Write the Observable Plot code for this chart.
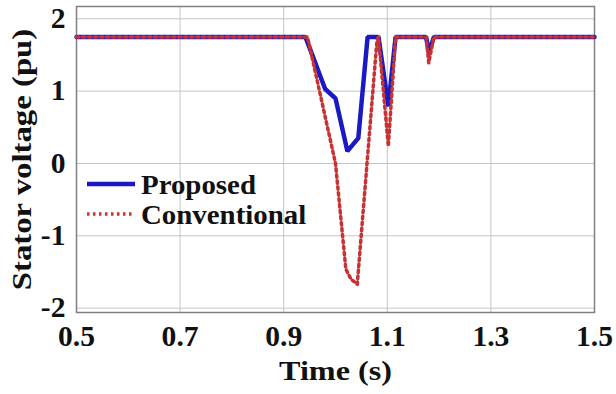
<!DOCTYPE html>
<html><head><meta charset="utf-8">
<script src="https://cdn.jsdelivr.net/npm/d3@7"></script>
<script src="https://cdn.jsdelivr.net/npm/@observablehq/plot@0.6"></script>
<style>body{margin:0;background:#fff}</style>
</head><body><div id="chart"></div>
<script>
const proposedT = [0.5, 0.942, 0.98, 1.0, 1.023, 1.044, 1.062, 1.083, 1.102, 1.116, 1.175, 1.18, 1.19, 1.5];
const proposedV = [1.75, 1.75, 1.03, 0.9, 0.17, 0.35, 1.75, 1.75, 0.79, 1.75, 1.75, 1.53, 1.75, 1.75];
const convT = [0.5, 0.946, 1.0, 1.02, 1.03, 1.042, 1.08, 1.083, 1.102, 1.116, 1.175, 1.18, 1.19, 1.5];
const convV = [1.75, 1.75, 0.0, -1.46, -1.6, -1.67, 1.7, 1.75, 0.24, 1.75, 1.75, 1.39, 1.75, 1.75];
const xTicks = [0.5, 0.7, 0.9, 1.1, 1.3, 1.5];
const yTicks = [-2, -1, 0, 1, 2];
const seriesNames = ["Proposed", "Conventional"];
const xTitle = "Time (s)";
const yTitle = "Stator voltage (pu)";

const prop = proposedT.map((t, i) => ({t, v: proposedV[i]}));
const conv = convT.map((t, i) => ({t, v: convV[i]}));
const font = "'Liberation Serif', 'Times New Roman', serif";

const chart = Plot.plot({
  width: 616, height: 394,
  marginLeft: 76, marginRight: 22, marginTop: 6, marginBottom: 82,
  style: {fontFamily: font, fontWeight: "bold", fontSize: "29px", color: "#111", background: "#fff"},
  x: {domain: [0.5, 1.5]},
  y: {domain: [-2.06, 2.17]},
  marks: [
    Plot.gridX(xTicks, {stroke: "#c4c4c4", strokeOpacity: 1, strokeWidth: 1}),
    Plot.gridY(yTicks, {stroke: "#c4c4c4", strokeOpacity: 1, strokeWidth: 1}),
    Plot.frame({stroke: "#808080", strokeWidth: 1.5}),
    Plot.axisX(xTicks, {tickSize: 0, tickPadding: 13, fontSize: 29, fontWeight: "bold", label: null, tickFormat: d3.format(".1f")}),
    Plot.axisY(yTicks, {tickSize: 0, tickPadding: 11, fontSize: 29, fontWeight: "bold", label: null, tickFormat: d => d < 0 ? "-" + Math.abs(d) : String(d)}),
    Plot.line(prop, {x: "t", y: "v", stroke: "#1a1ac4", strokeWidth: 4.5, strokeLinejoin: "miter"}),
    Plot.line(conv, {x: "t", y: "v", stroke: "#c83232", strokeWidth: 3.5, strokeDasharray: "2.5,3.5"}),
    Plot.text([xTitle], {frameAnchor: "bottom", dy: 67, fontSize: 28, fontWeight: "bold", fill: "#111"}),
    Plot.text([yTitle], {frameAnchor: "left", textAnchor: "middle", dx: -54, rotate: -90, fontSize: 28, fontWeight: "bold", fill: "#111"}),
  ]
});

// legend inside the plot area
const svg = d3.select(chart);
const legend = svg.append("g").attr("font-family", font).attr("font-weight", "bold").attr("font-size", 27.5).attr("text-anchor", "start");
const lx = 87, ly = [184, 214];
legend.append("line").attr("x1", lx).attr("x2", lx + 48).attr("y1", ly[0]).attr("y2", ly[0]).attr("stroke", "#1a1ac4").attr("stroke-width", 4.5);
legend.append("line").attr("x1", lx).attr("x2", lx + 48).attr("y1", ly[1]).attr("y2", ly[1]).attr("stroke", "#c83232").attr("stroke-width", 3.5).attr("stroke-dasharray", "2.5,3.5");
seriesNames.forEach((n, i) => legend.append("text").attr("x", lx + 54).attr("y", ly[i]).attr("dy", "0.35em").attr("fill", "#111").text(n));

document.getElementById("chart").appendChild(chart);

// the reference typeface is slightly wider than Liberation Serif: widen glyphs
svg.selectAll("text").each(function () {
  const s = this.textContent;
  const f = s === xTitle ? 1.15 : s === yTitle ? 1.17 : seriesNames.includes(s) ? 1.05 : 1.02;
  const L = this.getComputedTextLength();
  if (L > 0) { this.setAttribute("textLength", L * f); this.setAttribute("lengthAdjust", "spacingAndGlyphs"); }
});
</script>
</body></html>
